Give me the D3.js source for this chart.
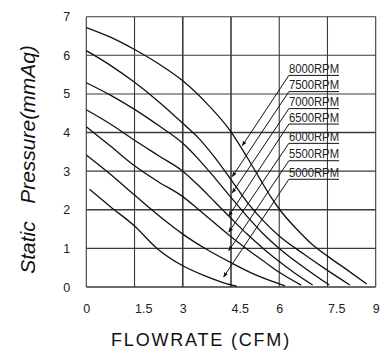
<!DOCTYPE html>
<html lang="en">
<head>
<meta charset="utf-8">
<title>Fan P-Q curves</title>
<script src="https://cdn.jsdelivr.net/npm/d3@7"></script>
<style>
  body { margin: 0; background: #fff; }
  svg { display: block; font-family: "Liberation Sans", Arial, sans-serif; }
</style>
</head>
<body>
<div id="chart"></div>
<script>
// ticks
const xTicks = [0, 1.5, 3, 4.5, 6, 7.5, 9];
const yTicks = [0, 1, 2, 3, 4, 5, 6, 7];

// curve data, [flow CFM, pressure mmAq]
const rpm8000 = [[0,6.72],[0.75,6.47],[1.5,6.15],[2.25,5.78],[3,5.34],[3.75,4.75],[4.5,4.02],[5,3.36],[5.4,2.8],[5.75,2.32],[6,2.02],[6.6,1.45],[7,1.12],[7.5,0.8],[8.1,0.45],[8.72,0.08]];
const rpm7500 = [[0,6.12],[0.75,5.74],[1.5,5.3],[2.25,4.8],[3,4.24],[3.5,3.85],[4,3.35],[4.5,2.78],[5,2.2],[5.5,1.72],[6,1.32],[6.75,0.86],[7.5,0.43],[8.2,0.05]];
const rpm7000 = [[0,5.29],[0.75,4.97],[1.5,4.6],[2.25,4.18],[3,3.72],[3.5,3.3],[4,2.82],[4.5,2.32],[5,1.83],[5.5,1.38],[6,1.0],[6.75,0.52],[7.56,0.05]];
const rpm6500 = [[0,4.59],[0.75,4.22],[1.5,3.8],[2.25,3.4],[3,3.0],[3.5,2.62],[4,2.2],[4.5,1.78],[5,1.37],[5.5,1.0],[6,0.66],[6.5,0.35],[7.04,0.05]];
const rpm6000 = [[0,4.15],[0.75,3.65],[1.5,3.14],[2.25,2.72],[3,2.34],[3.5,2.0],[4,1.65],[4.5,1.3],[5,0.98],[5.5,0.68],[6,0.38],[6.68,0.05]];
const rpm5500 = [[0,3.42],[0.75,2.92],[1.5,2.38],[2.25,1.85],[3,1.37],[3.75,0.97],[4.5,0.63],[5.25,0.32],[6.18,0.03]];
const rpm5000 = [[0.1,2.53],[0.75,2.08],[1.5,1.58],[2.2,1.0],[3,0.55],[3.75,0.27],[4.3,0.1],[4.68,0.02]];

// labels and leader lines
const rpmNames = ["8000RPM","7500RPM","7000RPM","6500RPM","6000RPM","5500RPM","5000RPM"];
const labelY = [5.48, 5.06, 4.62, 4.22, 3.72, 3.27, 2.79];
const tipX = [4.85, 4.54, 4.54, 4.43, 4.43, 4.43, 4.27];
const tipY = [3.66, 2.86, 2.44, 1.84, 1.42, 0.94, 0.26];
const labelX = 6.3, labelX2 = 7.86;

const series = [rpm8000, rpm7500, rpm7000, rpm6500, rpm6000, rpm5500, rpm5000];

const width = 386, height = 362;
const margin = {top: 16.7, right: 10.3, bottom: 75, left: 86.3};

const svg = d3.select("#chart").append("svg")
  .attr("width", width)
  .attr("height", height);

const x = d3.scaleLinear().domain([0, 9]).range([margin.left, width - margin.right]);
const y = d3.scaleLinear().domain([0, 7]).range([height - margin.bottom, margin.top]);

svg.append("defs").append("marker")
  .attr("id", "arrow")
  .attr("viewBox", "0 0 10 10")
  .attr("refX", 9).attr("refY", 5)
  .attr("markerWidth", 5).attr("markerHeight", 5)
  .attr("orient", "auto")
  .append("path")
  .attr("d", "M0,1 L10,5 L0,9 Z")
  .attr("fill", "#111");

// grid
const grid = svg.append("g").attr("stroke", "#3a3a3a").attr("fill", "none");
grid.selectAll(".vg").data(xTicks).enter().append("line")
  .attr("x1", d => x(d)).attr("x2", d => x(d))
  .attr("y1", y(0)).attr("y2", y(7))
  .attr("stroke-width", d => (d === 3 || d === 4.5) ? 1.6 : 1.1);
grid.selectAll(".hg").data(yTicks).enter().append("line")
  .attr("y1", d => y(d)).attr("y2", d => y(d))
  .attr("x1", x(0)).attr("x2", x(9))
  .attr("stroke-width", d => (d === 2 || d === 4 || d === 0) ? 1.6 : 1.1);

// axes labels
const xAxis = svg.append("g")
  .attr("transform", `translate(0,${y(0)})`)
  .call(d3.axisBottom(x).tickValues(xTicks).tickSize(0).tickPadding(17)
    .tickFormat(d => String(d)));
xAxis.select(".domain").remove();
xAxis.selectAll("text")
  .attr("text-anchor", d => Number.isInteger(d) ? "middle" : "start")
  .attr("font-size", 12.5).attr("fill", "#222")
  .attr("font-family", "Liberation Sans, Arial, sans-serif");

const yAxis = svg.append("g")
  .attr("transform", `translate(${x(0)},0)`)
  .call(d3.axisLeft(y).tickValues(yTicks).tickSize(0).tickPadding(16)
    .tickFormat(d3.format("d")));
yAxis.select(".domain").remove();
yAxis.selectAll("text")
  .attr("font-size", 12.5).attr("fill", "#222")
  .attr("font-family", "Liberation Sans, Arial, sans-serif");

// curves
const line = d3.line()
  .x(d => x(d[0])).y(d => y(d[1]))
  .curve(d3.curveMonotoneX);

svg.append("g").selectAll("path")
  .data(series).enter().append("path")
  .attr("d", line)
  .attr("fill", "none")
  .attr("stroke", "#111")
  .attr("stroke-width", 1.3);

// leaders + labels
const ann = svg.append("g");
rpmNames.forEach((name, i) => {
  ann.append("line")
    .attr("x1", x(labelX)).attr("y1", y(labelY[i]))
    .attr("x2", x(tipX[i])).attr("y2", y(tipY[i]))
    .attr("stroke", "#111").attr("stroke-width", 1)
    .attr("marker-end", "url(#arrow)");
  ann.append("line")
    .attr("x1", x(labelX)).attr("x2", x(labelX2))
    .attr("y1", y(labelY[i])).attr("y2", y(labelY[i]))
    .attr("stroke", "#111").attr("stroke-width", 1);
  ann.append("text")
    .attr("x", x(labelX)).attr("y", y(labelY[i]) - 2.5)
    .attr("font-size", 12).attr("fill", "#222")
    .attr("textLength", x(labelX2) - x(labelX))
    .attr("lengthAdjust", "spacingAndGlyphs")
    .text(name);
});

// titles
svg.append("text")
  .attr("x", 201).attr("y", 346)
  .attr("text-anchor", "middle")
  .attr("font-size", 18).attr("letter-spacing", 1.8)
  .attr("fill", "#111")
  .text("FLOWRATE (CFM)");

svg.append("text")
  .attr("transform", "translate(35,159.5) rotate(-90)")
  .attr("text-anchor", "middle")
  .attr("font-size", 21).attr("font-style", "italic")
  .attr("fill", "#111")
  .text("Static\u00a0\u00a0\u00a0Pressure(mmAq)");
</script>
</body>
</html>
